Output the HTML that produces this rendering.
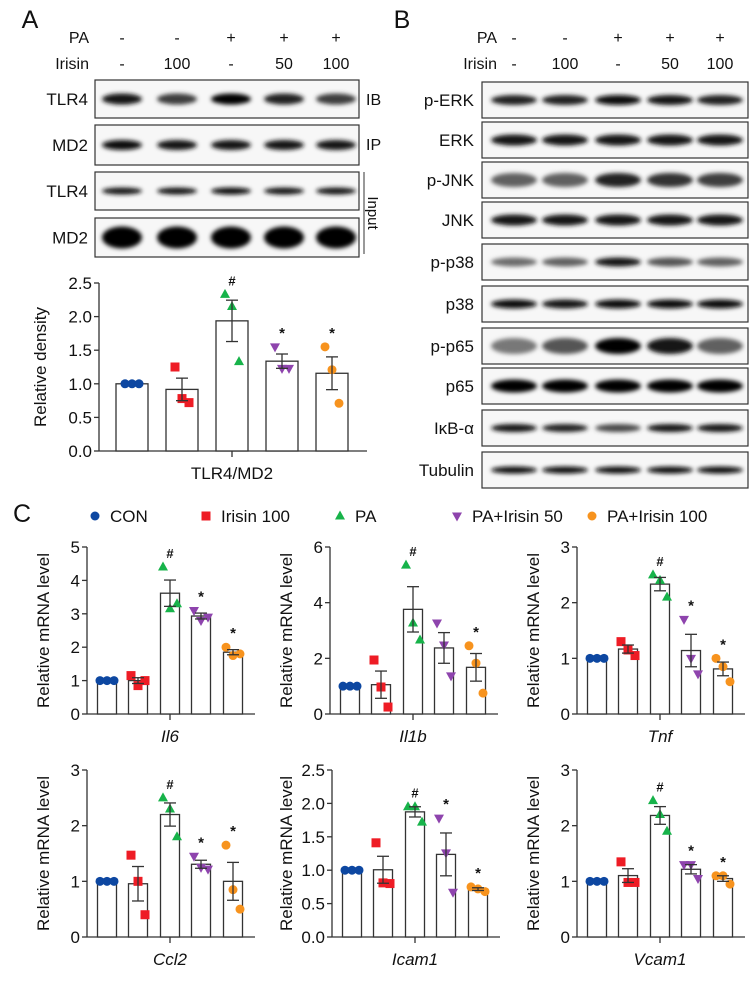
<!DOCTYPE html>
<html><head><meta charset="utf-8"><style>
body{margin:0;background:#fff}
svg{display:block;font-family:"Liberation Sans",Arial,sans-serif}
</style></head><body>
<svg id="fig" width="754" height="981" viewBox="0 0 754 981" xmlns="http://www.w3.org/2000/svg">
<defs>
<filter id="blur" x="-50%" y="-100%" width="200%" height="300%"><feGaussianBlur stdDeviation="2"/></filter>
</defs>
<g id="root"></g>
</svg>
<script>
// ---------- data ----------
const groups = ["CON","Irisin 100","PA","PA+Irisin 50","PA+Irisin 100"];
const colors = ["#0d47a1","#ee1c25","#17b34a","#8e44ad","#f7931e"];
const shapes = ["circle","square","triangle","tridown","circle"];
const paRow = ["-","-","+","+","+"];
const irisinRow = ["-","100","-","50","100"];
// panel A
const aValues = [[1,1,1],[1.25,0.78,0.72],[2.33,2.15,1.33],[1.55,1.23,1.23],[1.55,1.21,0.71]];
const aTicks = ["0.0","0.5","1.0","1.5","2.0","2.5"];
const aSig = ["","","#","*","*"];
// panel C
const genes = ["Il6","Il1b","Tnf","Ccl2","Icam1","Vcam1"];
const il6 = [[1,1,1],[1.15,0.85,1.0],[4.4,3.15,3.3],[3.1,2.8,2.9],[2.0,1.75,1.8]];
const il1b = [[1,1,1],[1.94,0.97,0.25],[5.35,3.27,2.66],[3.27,2.48,1.37],[2.45,1.83,0.75]];
const tnf = [[1,1,1],[1.3,1.15,1.05],[2.5,2.4,2.1],[1.7,1.0,0.72],[1.0,0.85,0.58]];
const ccl2 = [[1,1,1],[1.47,1.0,0.4],[2.5,2.3,1.8],[1.45,1.25,1.22],[1.65,0.85,0.5]];
const icam1 = [[1,1,1],[1.41,0.81,0.8],[1.95,1.95,1.72],[1.78,1.26,0.67],[0.75,0.72,0.68]];
const vcam1 = [[1,1,1],[1.35,0.98,0.98],[2.45,2.2,1.9],[1.3,1.3,1.05],[1.1,1.1,0.95]];
const il6Ticks = ["0","1","2","3","4","5"];
const il1bTicks = ["0","2","4","6"];
const tnfTicks = ["0","1","2","3"];
const ccl2Ticks = ["0","1","2","3"];
const icam1Ticks = ["0.0","0.5","1.0","1.5","2.0","2.5"];
const vcam1Ticks = ["0","1","2","3"];
const il6Sig = ["","","#","*","*"];
const il1bSig = ["","","#","","*"];
const tnfSig = ["","","#","*","*"];
const ccl2Sig = ["","","#","*","*"];
const icam1Sig = ["","","#","*","*"];
const vcam1Sig = ["","","#","*","*"];
// blot intensities per lane (0..1)
const blotA = [
 {label:"TLR4", inten:[0.9,0.75,1,0.85,0.75], h:11},
 {label:"MD2", inten:[0.95,0.9,0.9,0.9,0.9], h:10},
 {label:"TLR4", inten:[0.9,0.9,0.95,0.9,0.9], h:7},
 {label:"MD2", inten:[1,1,1,1,1], h:22}
];
const blotB = [
 {label:"p-ERK", inten:[0.85,0.85,0.95,0.9,0.85], h:10},
 {label:"ERK", inten:[0.9,0.9,0.9,0.9,0.9], h:11},
 {label:"p-JNK", inten:[0.6,0.6,0.85,0.8,0.75], h:14},
 {label:"JNK", inten:[0.9,0.9,0.9,0.9,0.9], h:11},
 {label:"p-p38", inten:[0.55,0.6,0.9,0.65,0.6], h:9},
 {label:"p38", inten:[0.95,0.9,0.95,0.95,0.95], h:9},
 {label:"p-p65", inten:[0.5,0.65,1,0.9,0.6], h:16},
 {label:"p65", inten:[1,1,1,1,1], h:13},
 {label:"IκB-α", inten:[0.9,0.85,0.7,0.9,0.9], h:8},
 {label:"Tubulin", inten:[0.95,0.95,0.95,0.95,0.95], h:7}
];

// ---------- helpers ----------
const NS="http://www.w3.org/2000/svg";
const root=document.getElementById("root");
function el(tag,attrs,parent){const e=document.createElementNS(NS,tag);for(const k in attrs)e.setAttribute(k,attrs[k]);(parent||root).appendChild(e);return e;}
function txt(x,y,s,size,parent,extra){const t=el("text",Object.assign({x:x,y:y,"font-size":size,fill:"#111","text-anchor":"middle"},extra||{}),parent);t.textContent=s;return t;}
function marker(g,shape,x,y,c){
  const r=4.5;let m;
  if(shape==="circle") m=el("circle",{cx:x,cy:y,r:r,fill:c},g);
  else if(shape==="square") m=el("rect",{x:x-r,y:y-r,width:2*r,height:2*r,fill:c},g);
  else if(shape==="triangle") m=el("polygon",{points:`${x},${y-r-1} ${x-r-0.5},${y+r-1} ${x+r+0.5},${y+r-1}`,fill:c},g);
  else m=el("polygon",{points:`${x},${y+r+1} ${x-r-0.5},${y-r+1} ${x+r+0.5},${y-r+1}`,fill:c},g);
  
  
  return m;
}
function mean(a){return a.reduce((s,v)=>s+v,0)/a.length;}
function sem(a){const m=mean(a);const sd=Math.sqrt(a.reduce((s,v)=>s+(v-m)*(v-m),0)/(a.length-1));return sd/Math.sqrt(a.length);}

function barChart(opt){
  const g=el("g",{});
  
  
  const max=parseFloat(opt.ticks[opt.ticks.length-1]);
  const y=v=>opt.y0-(v/max)*(opt.y0-opt.yTop);
  el("line",{x1:opt.ax,y1:opt.yTop,x2:opt.ax,y2:opt.y0,stroke:"#333","stroke-width":1.3},g);
  el("line",{x1:opt.ax,y1:opt.y0,x2:opt.axEnd,y2:opt.y0,stroke:"#333","stroke-width":1.3},g);
  opt.ticks.forEach(t=>{const v=parseFloat(t);const yy=y(v);
    el("line",{x1:opt.ax-5,y1:yy,x2:opt.ax,y2:yy,stroke:"#333","stroke-width":1.3},g);
    const tl=txt(opt.ax-7,yy+6,t,opt.tickSize||17,g,{"text-anchor":"end"});
    
    
  });
  const midX=opt.barX[2];
  el("line",{x1:midX,y1:opt.y0,x2:midX,y2:opt.y0+6,stroke:"#333","stroke-width":1.3},g);
  const xl=txt(midX,opt.y0+28,opt.xlabel,17,g,opt.italic?{"font-style":"italic"}:{});
  
  
  const yl=txt(0,0,opt.ylabel,17,g,{transform:`translate(${opt.ylx},${(opt.yTop+opt.y0)/2}) rotate(-90)`});
  
  
  opt.values.forEach((vals,i)=>{
    const cx=opt.barX[i],m=mean(vals),s=sem(vals),w=opt.bw;
    const b=el("rect",{x:cx-w/2,y:y(m),width:w,height:opt.y0-y(m),fill:"#fff",stroke:"#333","stroke-width":1.3},g);
    
    
    const offs=[-7,0,7];
    vals.forEach((v,j)=>marker(g,shapes[i],cx+offs[j],y(v),colors[i]));
    if(s>0.001){
      const eb=el("g",{},g);
      
      
      el("line",{x1:cx,y1:y(m-s),x2:cx,y2:y(m+s),stroke:"#333","stroke-width":1.3},eb);
      el("line",{x1:cx-6,y1:y(m-s),x2:cx+6,y2:y(m-s),stroke:"#333","stroke-width":1.3},eb);
      el("line",{x1:cx-6,y1:y(m+s),x2:cx+6,y2:y(m+s),stroke:"#333","stroke-width":1.3},eb);
    }
    if(opt.sig[i]){
      const top=Math.max(...vals,m+s);
      const st=txt(cx,y(top)-9,opt.sig[i],opt.sig[i]==="#"?13:15,g,{"font-weight":"bold"});
      
      
    }
  });
}

function blots(rows,x0,x1,tops,heights,lanes,labelX,name,lw){
  const g=el("g",{});
  
  
  rows.forEach((r,k)=>{
    const t=tops[k],h=heights[k];
    const box=el("g",{},g);
    
    
    el("rect",{x:x0,y:t,width:x1-x0,height:h,fill:"#f7f7f7"},box);
    const cy=t+h/2;
    r.inten.forEach((v,i)=>{
      const gray=Math.round(240-240*v);
      el("ellipse",{cx:lanes[i],cy:cy,rx:lw,ry:r.h/2,fill:`rgb(${gray},${gray},${gray})`,filter:"url(#blur)"},box);
    });
    el("rect",{x:x0,y:t,width:x1-x0,height:h,fill:"none",stroke:"#333","stroke-width":1.2},box);
    const lt=txt(labelX,cy+6,r.label,17,box,{"text-anchor":"end"});
    
    
  });
}

// ---------- panel letters ----------
[["A",30,28],["B",402,28],["C",22,522]].forEach(p=>{const t=txt(p[1],p[2],p[0],25,root);});

// ---------- Panel A blots ----------
const lanesA=[122,177,231,284,336];
function condRows(lanes,lx,y1,y2,name){
  const g=el("g",{});
  
  
  txt(lx,y1,"PA",16,g,{"text-anchor":"end"});
  txt(lx,y2,"Irisin",16,g,{"text-anchor":"end"});
  lanes.forEach((x,i)=>{txt(x,y1,paRow[i],16,g);txt(x,y2,irisinRow[i],16,g);});
}
condRows(lanesA,89,43,69,"panel-a-conditions");
blots(blotA,95,359,[80,125,172,218],[38,40,38,39],lanesA,88,"panel-a-blots",20);
let t=txt(366,105,"IB",16,root,{"text-anchor":"start"});
t=txt(366,150,"IP",16,root,{"text-anchor":"start"});
el("line",{x1:364,y1:172,x2:364,y2:254,stroke:"#333","stroke-width":1});
t=txt(0,0,"Input",15,root,{transform:"translate(368,213) rotate(90)"});

// ---------- Panel A chart ----------
barChart({name:"panel-a-chart",values:aValues,ticks:aTicks,sig:aSig,ax:99,axEnd:367,y0:451,yTop:283,barX:[132,182,232,282,332],bw:32,xlabel:"TLR4/MD2",ylabel:"Relative density",ylx:46,italic:false});

// ---------- Panel B ----------
const lanesB=[514,565,618,670,720];
condRows(lanesB,497,43,69,"panel-b-conditions");
const topsB=[82,122,162,202,244,286,328,368,410,452];
blots(blotB,482,748,topsB,topsB.map(()=>36),lanesB,474,"panel-b-blots",23);

// ---------- Panel C legend ----------
const lg=el("g",{});


const legX=[95,206,340,457,592];
groups.forEach((gname,i)=>{
  const e=el("g",{},lg);
  
  
  marker(e,shapes[i],legX[i],516,colors[i]);
  txt(legX[i]+15,522,gname,17,e,{"text-anchor":"start"});
});

// ---------- Panel C charts ----------
const cVals=[il6,il1b,tnf,ccl2,icam1,vcam1];
const cTicks=[il6Ticks,il1bTicks,tnfTicks,ccl2Ticks,icam1Ticks,vcam1Ticks];
const cSig=[il6Sig,il1bSig,tnfSig,ccl2Sig,icam1Sig,vcam1Sig];
const axXs=[87,330,577,87,332,577];
const ylxs=[49,292,539,49,292,539];
genes.forEach((gn,k)=>{
  const ax=axXs[k],row=k<3?0:1;
  const y0=row?937:714,yTop=row?770:547;
  barChart({name:"chart-"+gn.toLowerCase(),values:cVals[k],ticks:cTicks[k],sig:cSig[k],ax:ax,axEnd:ax+168,y0:y0,yTop:yTop,
    barX:[ax+20,ax+51,ax+83,ax+114,ax+146],bw:19,xlabel:gn,ylabel:"Relative mRNA level",ylx:ylxs[k],italic:true});
});
</script>
</body></html>
